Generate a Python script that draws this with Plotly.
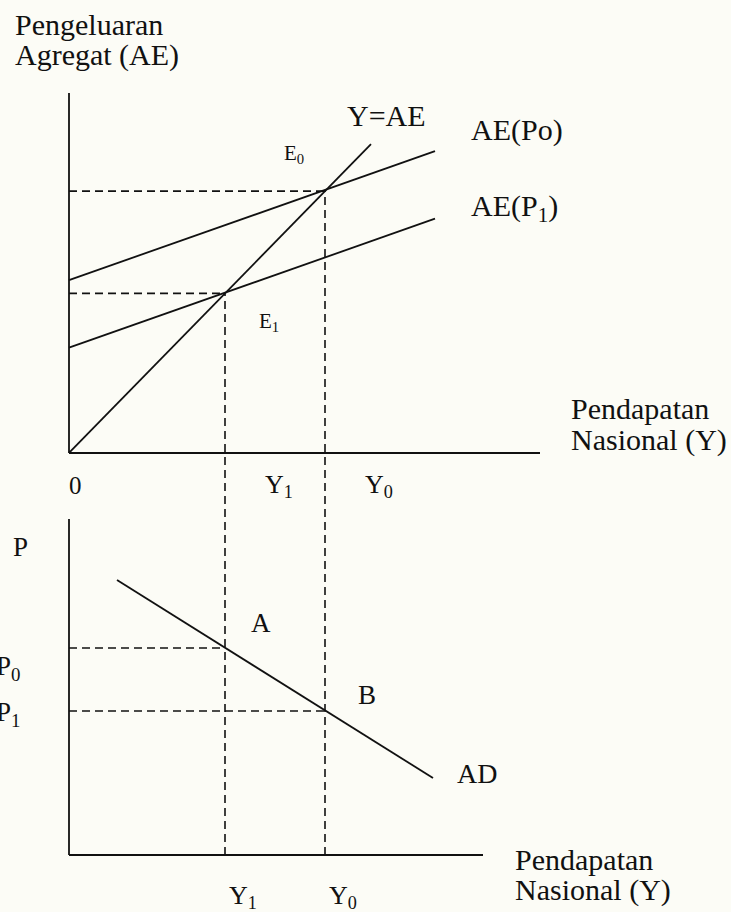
import plotly.graph_objects as go

# --- Model values (arbitrary units) ---
Y1 = 15.6           # equilibrium income at price level P1
Y0 = 25.6           # equilibrium income at price level P0
P0 = 20.7           # price level at point A
P1 = 14.4           # price level at point B

# Aggregate expenditure lines: value at Y = 0 and at the right end
ae_x = [0, 36.6]
ae_po = [16.9, 29.5]
ae_p1 = [10.3, 22.9]
# 45-degree line Y = AE
yae_x = [0, 30.2]
yae_y = [0, 30.2]

# Aggregate demand curve endpoints
ad_x = [4.8, 36.4]
ad_p = [27.5, 7.7]

# Axis extents of the two panels
top_x_len, top_ae_len = 47.1, 35.2
bot_x_len, bot_p_len = 41.4, 33.6

# Shared screen coordinates: both y axes span the whole figure
X_RANGE = [-6.9, 66.2]
AE_RANGE = [-44.87, 44.28]
P_RANGE = [-5.7, 85.5]


def p_from_ae(v):
    """Value on the P axis at the same height as AE value v."""
    f = (v - AE_RANGE[0]) / (AE_RANGE[1] - AE_RANGE[0])
    return P_RANGE[0] + f * (P_RANGE[1] - P_RANGE[0])


INK = "#111111"
SOLID = dict(color=INK, width=1.8)
DASH = dict(color=INK, width=1.6, dash="8px,5px")
FONT = "Liberation Serif, Times New Roman, serif"

fig = go.Figure()


def line(x, y, style, axis="y"):
    fig.add_trace(go.Scatter(x=x, y=y, mode="lines", line=style,
                             yaxis=axis, hoverinfo="skip", showlegend=False))


# Top panel axes
line([0, 0], [0, top_ae_len], SOLID)
line([0, top_x_len], [0, 0], SOLID)
# Top panel curves
line(yae_x, yae_y, SOLID)
line(ae_x, ae_po, SOLID)
line(ae_x, ae_p1, SOLID)
# Guides to the equilibria E0 and E1
line([0, Y0], [Y0, Y0], DASH)
line([0, Y1], [Y1, Y1], DASH)

# Bottom panel axes
line([0, 0], [0, bot_p_len], SOLID, "y2")
line([0, bot_x_len], [0, 0], SOLID, "y2")
# Aggregate demand
line(ad_x, ad_p, SOLID, "y2")
# Guides to A and B
line([0, Y1], [P0, P0], DASH, "y2")
line([0, Y0], [P1, P1], DASH, "y2")
# Vertical guides running from the equilibria down to the bottom axis
line([Y1, Y1], [0, p_from_ae(Y1)], DASH, "y2")
line([Y0, Y0], [0, p_from_ae(Y0)], DASH, "y2")


def label(text, x, y, size=30, axis="y", xanchor="left"):
    fig.add_annotation(text=text, x=x, y=y, xref="x", yref=axis,
                       xanchor=xanchor, yanchor="middle", showarrow=False,
                       font=dict(family=FONT, size=size, color=INK))


label("Pengeluaran", -5.6, 41.9)
label("Agregat (AE)", -5.6, 38.9)
label("Y=AE", 31.7, 33.0, xanchor="center")
label("AE(Po)", 40.0, 31.6)
label("AE(P<sub>1</sub>)", 40.0, 23.9)
label("E<sub>0</sub>", 21.3, 29.2, size=21)
label("E<sub>1</sub>", 18.8, 12.8, size=21)
label("Pendapatan", 50.0, 4.3)
label("Nasional (Y)", 50.0, 1.27)
label("0", 0.6, -3.2, size=25, xanchor="center")
label("Y<sub>1</sub>", 19.4, -3.2, size=26)
label("Y<sub>0</sub>", 29.4, -3.2, size=26)

label("P", -4.9, 30.8, size=27, axis="y2", xanchor="center")
label("A", 19.2, 23.2, size=27, axis="y2", xanchor="center")
label("B", 29.8, 16.0, size=27, axis="y2", xanchor="center")
label("P<sub>0</sub>", -4.7, 18.7, size=27, axis="y2", xanchor="right")
label("P<sub>1</sub>", -4.7, 14.1, size=27, axis="y2", xanchor="right")
label("AD", 38.6, 8.2, size=28, axis="y2")
label("Pendapatan", 44.4, -0.4, axis="y2")
label("Nasional (Y)", 44.4, -3.45, axis="y2")
label("Y<sub>1</sub>", 15.8, -4.2, size=26, axis="y2")
label("Y<sub>0</sub>", 25.8, -4.2, size=26, axis="y2")

hidden = dict(visible=False, showgrid=False, zeroline=False, fixedrange=True)
fig.update_layout(
    width=731, height=912,
    margin=dict(l=0, r=0, t=0, b=0),
    paper_bgcolor="#fcfcf6", plot_bgcolor="#fcfcf6",
    xaxis=dict(range=X_RANGE, domain=[0, 1], **hidden),
    yaxis=dict(range=AE_RANGE, domain=[0, 1], **hidden),
    yaxis2=dict(range=P_RANGE, overlaying="y", **hidden),
    showlegend=False,
)

fig.write_html("out.html")
